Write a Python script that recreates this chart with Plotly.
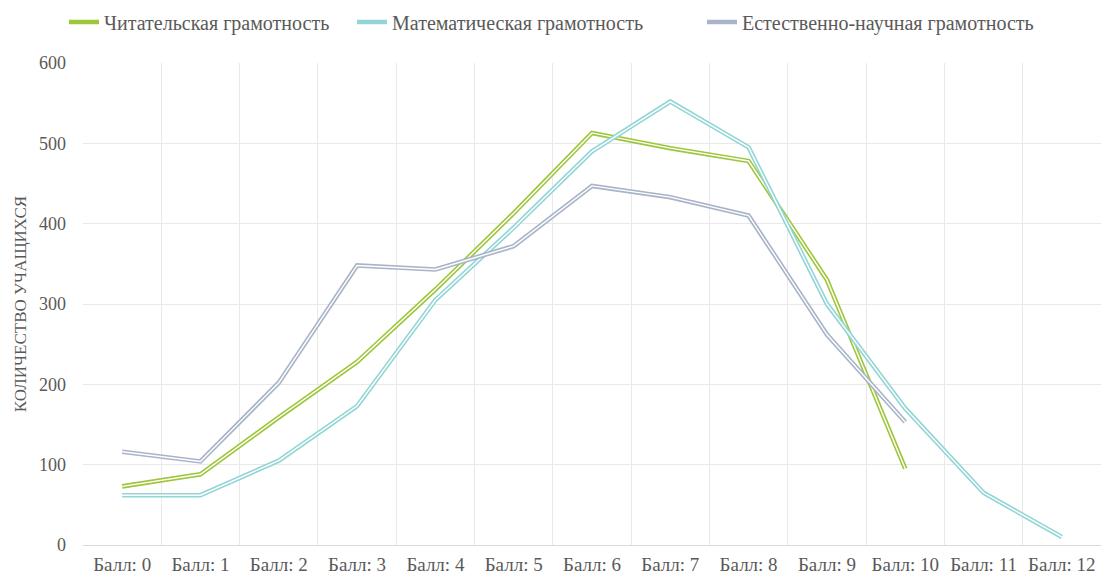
import plotly.graph_objects as go

categories = [f"Балл: {i}" for i in range(13)]
reading = [73, 88, 159, 228, 318, 413, 513, 494, 478, 330, 95]
math_ = [62, 62, 105, 173, 305, 395, 490, 552, 495, 300, 170, 65, 10]
science = [116, 104, 202, 348, 343, 372, 447, 433, 410, 262, 153]

names = ["Читательская грамотность", "Математическая грамотность", "Естественно-научная грамотность"]
colors = ["#9ec63a", "#93d5d6", "#a9b4c9"]
series = [reading, math_, science]
legend_ids = ["legend", "legend2", "legend3"]
legend_left_px = [64, 352, 702]

W, H = 1102, 575
font = "Liberation Serif"
fig = go.Figure()
for name, col, vals, lg in zip(names, colors, series, legend_ids):
    cats = categories[:len(vals)]
    fig.add_trace(go.Scatter(x=cats, y=vals, mode="lines", name=name, legend=lg,
                             line=dict(color=col, width=4.6)))
    fig.add_trace(go.Scatter(x=cats, y=vals, mode="lines", showlegend=False,
                             hoverinfo="skip", line=dict(color="white", width=1.4)))

leg_common = dict(orientation="h", xref="container", yref="container",
                  xanchor="left", yanchor="middle", y=1 - 22 / H,
                  font=dict(size=20, color="#595959"), bgcolor="rgba(0,0,0,0)")
fig.update_layout(
    width=W, height=H,
    margin=dict(l=83, r=1, t=63, b=30, autoexpand=False),
    paper_bgcolor="white", plot_bgcolor="white",
    font=dict(family=font, size=17, color="#595959"),
    showlegend=True,
    legend=dict(x=legend_left_px[0] / W, **leg_common),
    legend2=dict(x=legend_left_px[1] / W, **leg_common),
    legend3=dict(x=legend_left_px[2] / W, **leg_common),
)
fig.update_xaxes(type="category", categoryorder="array", categoryarray=categories,
                 tickson="boundaries", showgrid=True, gridcolor="#e9e9e9", gridwidth=1,
                 showline=True, linecolor="#d9d9d9", linewidth=1, ticks="",
                 tickfont=dict(size=19), ticklabelstandoff=2, automargin=False,
                 range=[-0.5, 12.5])
fig.update_yaxes(range=[0, 600], dtick=100, showgrid=True, gridcolor="#e9e9e9",
                 zeroline=False, showline=False, ticks="", automargin=False,
                 tickfont=dict(size=18), ticklabelstandoff=16,
                 title=dict(text="КОЛИЧЕСТВО УЧАЩИХСЯ", font=dict(size=17), standoff=8))

fig.write_html("out.html", config={"displayModeBar": False},
               post_script="document.body.style.margin='0';document.body.style.overflow='hidden';")
